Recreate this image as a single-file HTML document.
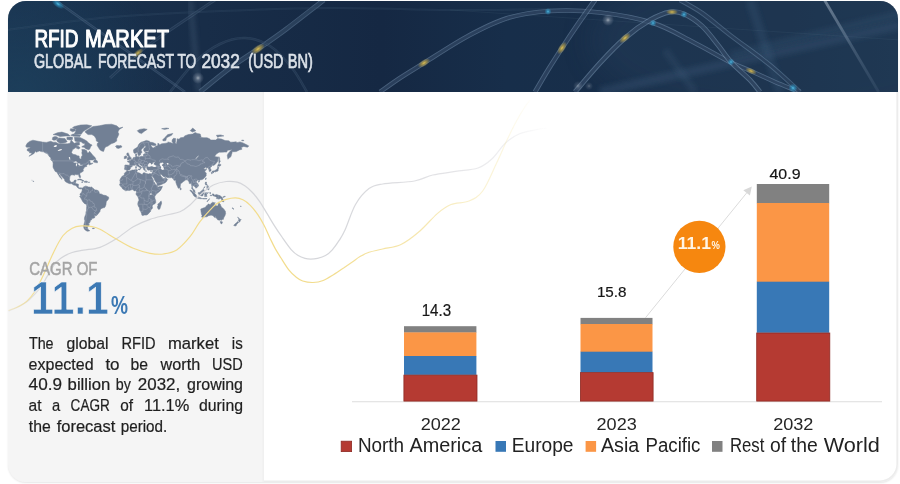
<!DOCTYPE html>
<html lang="en">
<head>
<meta charset="utf-8">
<title>RFID Market - Global Forecast to 2032 (USD BN)</title>
<style>
html,body{margin:0;padding:0;background:#ffffff;}
body{width:900px;height:484px;overflow:hidden;position:relative;font-family:"Liberation Sans",sans-serif;}
.card{position:absolute;left:8px;top:1px;width:890px;height:481px;border-radius:18px;overflow:hidden;background:#ffffff;box-shadow:0 0 0 1.6px #ececec inset,0 1px 2px rgba(0,0,0,.10);}
.banner{position:absolute;left:0;top:0;width:890px;height:91px;background:linear-gradient(90deg,#1a3350 0%,#182d48 22%,#152843 42%,#172e4a 56%,#1a2f49 85%,#1c344e 100%);}
.side{position:absolute;left:0;top:91px;width:256px;height:390px;background:#f5f5f5;box-shadow:-1.5px 0 0 0 #f0f0f0 inset;}
svg{position:absolute;left:0;top:0;will-change:transform;}
svg text{font-family:"Liberation Sans",sans-serif;}
</style>
</head>
<body>
<div class="card"><div class="banner"></div><div class="side"></div></div>
<svg width="900" height="484" viewBox="0 0 900 484">
<defs>
<clipPath id="cardclip"><rect x="8" y="1" width="890" height="481" rx="18" ry="18"/></clipPath>
<clipPath id="bannerclip"><path d="M26 1H880A18 18 0 0 1 898 19V92H8V19A18 18 0 0 1 26 1Z"/></clipPath>
<filter id="blur4" x="-20%" y="-20%" width="140%" height="140%"><feGaussianBlur stdDeviation="4"/></filter>
<filter id="blur8" x="-30%" y="-30%" width="160%" height="160%"><feGaussianBlur stdDeviation="14"/></filter>
<filter id="blur2" x="-20%" y="-20%" width="140%" height="140%"><feGaussianBlur stdDeviation="2.5"/></filter>
<radialGradient id="g_y"><stop offset="0" stop-color="#f2d25a" stop-opacity=".95"/><stop offset=".4" stop-color="#e0bb40" stop-opacity=".6"/><stop offset="1" stop-color="#e8c24a" stop-opacity="0"/></radialGradient>
<radialGradient id="g_c"><stop offset="0" stop-color="#5fd0f5" stop-opacity=".95"/><stop offset=".4" stop-color="#2fa8dc" stop-opacity=".6"/><stop offset="1" stop-color="#2fb4e8" stop-opacity="0"/></radialGradient>
<radialGradient id="g_w"><stop offset="0" stop-color="#ffffff" stop-opacity=".8"/><stop offset=".4" stop-color="#c8d0dc" stop-opacity=".4"/><stop offset="1" stop-color="#c8d0dc" stop-opacity="0"/></radialGradient>
<radialGradient id="bglow" gradientUnits="userSpaceOnUse" cx="20" cy="95" r="150"><stop offset="0" stop-color="#1d3f5b" stop-opacity=".95"/><stop offset="1" stop-color="#1d3f5b" stop-opacity="0"/></radialGradient>
<linearGradient id="streak" gradientUnits="userSpaceOnUse" x1="0" y1="0" x2="0" y2="92"><stop offset="0" stop-color="#a9b8c8" stop-opacity=".55"/><stop offset=".5" stop-color="#8fa3b8" stop-opacity=".30"/><stop offset="1" stop-color="#7f97b0" stop-opacity=".12"/></linearGradient>
<linearGradient id="fadeY" gradientUnits="userSpaceOnUse" x1="8" y1="0" x2="535" y2="0"><stop offset="0" stop-color="#f2dc8c" stop-opacity=".35"/><stop offset=".06" stop-color="#f2dc8c" stop-opacity="1"/><stop offset=".6" stop-color="#f2dc8c" stop-opacity="1"/><stop offset=".8" stop-color="#f3df94" stop-opacity=".7"/><stop offset=".93" stop-color="#f4e39c" stop-opacity=".35"/><stop offset="1" stop-color="#f4e39c" stop-opacity="0"/></linearGradient>
<linearGradient id="fadeG" gradientUnits="userSpaceOnUse" x1="8" y1="0" x2="550" y2="0"><stop offset="0" stop-color="#d4d5d9" stop-opacity=".3"/><stop offset=".08" stop-color="#d4d5d9" stop-opacity="1"/><stop offset=".6" stop-color="#d6d7db" stop-opacity="1"/><stop offset=".8" stop-color="#d9d9dd" stop-opacity=".75"/><stop offset=".93" stop-color="#dcdce0" stop-opacity=".4"/><stop offset="1" stop-color="#dcdce0" stop-opacity="0"/></linearGradient>
</defs>
<g clip-path="url(#bannerclip)">
<rect x="8" y="1" width="890" height="91" fill="url(#bglow)"/>
<ellipse cx="790" cy="40" rx="200" ry="80" fill="#27415d" opacity=".38" filter="url(#blur8)"/>
<path d="M600 92 L900 25" stroke="#3d5c7b" stroke-width="9" stroke-opacity=".34" filter="url(#blur2)"/>
<path d="M750 0 L780 92" stroke="#3d5c7b" stroke-width="9" stroke-opacity=".30" filter="url(#blur2)"/>
<path d="M730 55 L900 14" stroke="#3d5c7b" stroke-width="7" stroke-opacity=".26" filter="url(#blur2)"/>
<path d="M665 50 L695 92" stroke="#3d5c7b" stroke-width="7" stroke-opacity=".24" filter="url(#blur2)"/>
<path d="M190 0 L199 92" stroke="#7387a0" stroke-width="5" stroke-opacity=".22" filter="url(#blur2)"/>
<path d="M55.0 0.0C62.5 5.3 84.2 20.8 100.0 32.0C115.8 43.2 135.8 57.0 150.0 67.0C164.2 77.0 179.2 87.8 185.0 92.0" fill="none" stroke="#7f9bb8" stroke-width="2.6" stroke-opacity="0.26"/><path d="M55.0 0.0C62.5 5.3 84.2 20.8 100.0 32.0C115.8 43.2 135.8 57.0 150.0 67.0C164.2 77.0 179.2 87.8 185.0 92.0" fill="none" stroke="#182c47" stroke-width="0.8" stroke-opacity="0.50"/>
<path d="M110.0 78.0C114.7 73.8 129.7 59.8 138.0 53.0C146.3 46.2 149.7 44.2 160.0 37.0C170.3 29.8 190.8 16.2 200.0 10.0C209.2 3.8 212.5 1.7 215.0 0.0" fill="none" stroke="#7f9bb8" stroke-width="3.0" stroke-opacity="0.22"/><path d="M110.0 78.0C114.7 73.8 129.7 59.8 138.0 53.0C146.3 46.2 149.7 44.2 160.0 37.0C170.3 29.8 190.8 16.2 200.0 10.0C209.2 3.8 212.5 1.7 215.0 0.0" fill="none" stroke="#182c47" stroke-width="1.2" stroke-opacity="0.50"/>
<path d="M200.0 92.0C205.0 88.0 220.3 75.2 230.0 68.0C239.7 60.8 248.8 55.3 258.0 49.0C267.2 42.7 274.7 37.7 285.0 30.0C295.3 22.3 313.5 8.0 320.0 3.0C326.5 -2.0 323.3 0.5 324.0 0.0" fill="none" stroke="#7f9bb8" stroke-width="5.0" stroke-opacity="0.41"/><path d="M200.0 92.0C205.0 88.0 220.3 75.2 230.0 68.0C239.7 60.8 248.8 55.3 258.0 49.0C267.2 42.7 274.7 37.7 285.0 30.0C295.3 22.3 313.5 8.0 320.0 3.0C326.5 -2.0 323.3 0.5 324.0 0.0" fill="none" stroke="#182c47" stroke-width="3.2" stroke-opacity="0.55"/>
<path d="M170.0 92.0C174.2 87.0 186.7 70.0 195.0 62.0C203.3 54.0 211.7 48.0 220.0 44.0C228.3 40.0 236.7 37.7 245.0 38.0C253.3 38.3 262.2 41.0 270.0 46.0C277.8 51.0 285.8 60.3 292.0 68.0C298.2 75.7 304.5 88.0 307.0 92.0" fill="none" stroke="#7f9bb8" stroke-width="2.6" stroke-opacity="0.18"/><path d="M170.0 92.0C174.2 87.0 186.7 70.0 195.0 62.0C203.3 54.0 211.7 48.0 220.0 44.0C228.3 40.0 236.7 37.7 245.0 38.0C253.3 38.3 262.2 41.0 270.0 46.0C277.8 51.0 285.8 60.3 292.0 68.0C298.2 75.7 304.5 88.0 307.0 92.0" fill="none" stroke="#182c47" stroke-width="0.8" stroke-opacity="0.50"/>
<path d="M380.0 92.0C383.3 89.7 392.7 82.8 400.0 78.0C407.3 73.2 412.9 69.9 424.0 63.0C435.1 56.1 452.9 44.2 466.7 36.7C480.5 29.3 492.8 22.6 506.7 18.3C520.6 14.0 534.5 12.0 550.0 11.0C565.5 10.0 582.8 10.5 600.0 12.5C617.2 14.5 637.5 18.1 653.0 23.0C668.5 27.9 680.2 35.5 693.0 42.0C705.8 48.5 720.3 57.2 730.0 62.0C739.7 66.8 743.5 67.7 751.0 71.0C758.5 74.3 767.7 78.8 775.0 82.0C782.3 85.2 790.8 88.3 795.0 90.0C799.2 91.7 799.2 91.7 800.0 92.0" fill="none" stroke="#7f9bb8" stroke-width="4.6" stroke-opacity="0.48"/><path d="M380.0 92.0C383.3 89.7 392.7 82.8 400.0 78.0C407.3 73.2 412.9 69.9 424.0 63.0C435.1 56.1 452.9 44.2 466.7 36.7C480.5 29.3 492.8 22.6 506.7 18.3C520.6 14.0 534.5 12.0 550.0 11.0C565.5 10.0 582.8 10.5 600.0 12.5C617.2 14.5 637.5 18.1 653.0 23.0C668.5 27.9 680.2 35.5 693.0 42.0C705.8 48.5 720.3 57.2 730.0 62.0C739.7 66.8 743.5 67.7 751.0 71.0C758.5 74.3 767.7 78.8 775.0 82.0C782.3 85.2 790.8 88.3 795.0 90.0C799.2 91.7 799.2 91.7 800.0 92.0" fill="none" stroke="#182c47" stroke-width="2.8" stroke-opacity="0.60"/>
<path d="M535.0 92.0C537.2 88.3 543.5 77.3 548.0 70.0C552.5 62.7 557.0 55.7 562.0 48.0C567.0 40.3 572.5 32.0 578.0 24.0C583.5 16.0 592.2 4.0 595.0 0.0" fill="none" stroke="#7f9bb8" stroke-width="5.0" stroke-opacity="0.48"/><path d="M535.0 92.0C537.2 88.3 543.5 77.3 548.0 70.0C552.5 62.7 557.0 55.7 562.0 48.0C567.0 40.3 572.5 32.0 578.0 24.0C583.5 16.0 592.2 4.0 595.0 0.0" fill="none" stroke="#182c47" stroke-width="3.2" stroke-opacity="0.60"/>
<path d="M575.0 92.0C579.2 87.2 591.7 72.0 600.0 63.0C608.3 54.0 616.7 45.2 625.0 38.0C633.3 30.8 642.5 24.3 650.0 20.0C657.5 15.7 664.3 13.0 670.0 12.0C675.7 11.0 678.7 11.7 684.0 14.0C689.3 16.3 696.3 20.8 702.0 26.0C707.7 31.2 713.2 39.0 718.0 45.0C722.8 51.0 725.7 56.2 731.0 62.0C736.3 67.8 745.2 75.0 750.0 80.0C754.8 85.0 758.3 90.0 760.0 92.0" fill="none" stroke="#7f9bb8" stroke-width="5.0" stroke-opacity="0.53"/><path d="M575.0 92.0C579.2 87.2 591.7 72.0 600.0 63.0C608.3 54.0 616.7 45.2 625.0 38.0C633.3 30.8 642.5 24.3 650.0 20.0C657.5 15.7 664.3 13.0 670.0 12.0C675.7 11.0 678.7 11.7 684.0 14.0C689.3 16.3 696.3 20.8 702.0 26.0C707.7 31.2 713.2 39.0 718.0 45.0C722.8 51.0 725.7 56.2 731.0 62.0C736.3 67.8 745.2 75.0 750.0 80.0C754.8 85.0 758.3 90.0 760.0 92.0" fill="none" stroke="#182c47" stroke-width="3.2" stroke-opacity="0.60"/>
<path d="M680.0 0.0C683.7 2.2 693.7 7.2 702.0 13.0C710.3 18.8 718.7 26.3 730.0 35.0C741.3 43.7 758.3 55.5 770.0 65.0C781.7 74.5 795.0 87.5 800.0 92.0" fill="none" stroke="#7f9bb8" stroke-width="4.6" stroke-opacity="0.41"/><path d="M680.0 0.0C683.7 2.2 693.7 7.2 702.0 13.0C710.3 18.8 718.7 26.3 730.0 35.0C741.3 43.7 758.3 55.5 770.0 65.0C781.7 74.5 795.0 87.5 800.0 92.0" fill="none" stroke="#182c47" stroke-width="2.8" stroke-opacity="0.60"/>
<path d="M8.0 30.0C23.3 28.0 68.0 21.0 100.0 18.0C132.0 15.0 161.7 13.7 200.0 12.0C238.3 10.3 288.3 8.3 330.0 8.0C371.7 7.7 411.7 9.8 450.0 10.0C488.3 10.2 541.7 9.2 560.0 9.0" fill="none" stroke="#7f9bb8" stroke-width="2.0" stroke-opacity="0.12"/><path d="M8.0 30.0C23.3 28.0 68.0 21.0 100.0 18.0C132.0 15.0 161.7 13.7 200.0 12.0C238.3 10.3 288.3 8.3 330.0 8.0C371.7 7.7 411.7 9.8 450.0 10.0C488.3 10.2 541.7 9.2 560.0 9.0" fill="none" stroke="#182c47" stroke-width="0.6" stroke-opacity="0.50"/>
<path d="M824.5 0 L878.6 92" stroke="url(#streak)" stroke-width="2.8"/>
<path d="M450 10 L900 40" stroke="#6f87a0" stroke-width="1" stroke-opacity=".10"/>
<ellipse cx="58.0" cy="4.0" rx="7.2" ry="3.5" fill="url(#g_c)" opacity="0.90" transform="rotate(35 58.0 4.0)"/>
<ellipse cx="138.0" cy="53.0" rx="6.5" ry="3.1" fill="url(#g_y)" opacity="0.85" transform="rotate(-39 138.0 53.0)"/>
<ellipse cx="258.0" cy="49.0" rx="8.0" ry="3.8" fill="url(#g_y)" opacity="0.95" transform="rotate(-35 258.0 49.0)"/>
<circle cx="198.0" cy="78.0" r="6.0" fill="url(#g_w)" opacity="0.70"/>
<ellipse cx="424.0" cy="63.0" rx="7.0" ry="3.4" fill="url(#g_y)" opacity="0.95" transform="rotate(-32 424.0 63.0)"/>
<circle cx="548.0" cy="11.5" r="3.5" fill="url(#g_c)" opacity="0.90"/>
<ellipse cx="562.0" cy="48.0" rx="7.2" ry="3.5" fill="url(#g_y)" opacity="0.95" transform="rotate(-57 562.0 48.0)"/>
<ellipse cx="625.0" cy="38.0" rx="7.0" ry="3.4" fill="url(#g_y)" opacity="0.95" transform="rotate(-41 625.0 38.0)"/>
<circle cx="653.0" cy="23.0" r="3.5" fill="url(#g_c)" opacity="0.90"/>
<ellipse cx="672.0" cy="12.0" rx="6.1" ry="2.9" fill="url(#g_y)" opacity="0.90" transform="rotate(0 672.0 12.0)"/>
<circle cx="684.0" cy="14.5" r="3.5" fill="url(#g_c)" opacity="0.90"/>
<circle cx="731.0" cy="62.0" r="3.5" fill="url(#g_c)" opacity="0.90"/>
<ellipse cx="751.0" cy="71.0" rx="6.1" ry="2.9" fill="url(#g_y)" opacity="0.90" transform="rotate(24 751.0 71.0)"/>
<circle cx="793.0" cy="88.0" r="4.5" fill="url(#g_c)" opacity="0.90"/>
<circle cx="608.0" cy="20.0" r="6.0" fill="url(#g_w)" opacity="0.70"/>
<circle cx="578.0" cy="86.0" r="5.0" fill="url(#g_w)" opacity="0.40"/>
<circle cx="589.0" cy="86.0" r="4.0" fill="url(#g_w)" opacity="0.35"/>
</g>
<g clip-path="url(#cardclip)">
<!-- world map -->
<g>
<path d="M25.7 146.3L27.0 143.5L29.5 141.4L32.9 140.2L38.2 141.3L42.6 142.1L46.3 142.4L50.7 141.3L53.1 142.2L55.6 142.2L58.8 143.8L63.1 143.8L67.5 143.8L70.0 143.3L71.2 140.0L73.1 142.2L74.3 143.3L77.4 142.2L79.3 142.2L79.6 144.8L76.8 145.6L76.2 147.3L72.5 149.8L71.5 152.5L72.8 154.3L75.6 154.7L77.4 155.8L79.1 156.0L79.3 157.7L80.2 159.1L81.2 158.9L81.2 156.9L82.4 155.2L81.8 153.0L82.1 151.2L81.8 149.4L84.6 149.5L86.8 150.7L87.1 152.5L88.3 153.1L89.6 151.3L91.8 153.9L93.0 155.6L94.9 157.3L95.7 158.5L94.9 159.0L93.0 160.0L90.2 160.0L88.7 160.7L86.8 162.2L88.3 161.2L90.2 160.9L89.9 161.9L90.2 163.0L92.1 163.4L93.0 162.9L92.4 163.8L90.5 164.5L89.3 165.1L89.3 164.2L88.7 164.0L87.7 164.5L86.5 165.3L86.8 166.4L85.5 166.8L84.3 167.3L84.0 168.2L83.4 169.1L83.1 169.8L83.4 171.1L82.1 171.9L80.9 172.6L79.9 173.6L79.8 174.6L80.6 176.6L80.4 177.7L79.8 177.8L78.9 176.3L78.8 175.1L78.1 174.6L77.1 174.8L75.6 174.4L74.6 174.6L74.8 175.3L73.7 175.1L72.1 174.8L71.2 175.1L70.0 176.1L69.8 177.3L69.5 179.5L70.0 181.1L70.6 181.8L71.5 182.3L73.1 182.0L73.9 181.4L74.1 180.5L75.6 180.1L76.2 180.2L75.9 181.4L75.6 182.4L75.3 183.6L76.8 183.7L78.5 184.3L78.4 185.8L78.3 186.8L79.0 187.7L79.9 188.1L80.9 187.7L82.1 188.2L81.9 189.1L81.5 188.3L80.6 189.0L79.6 188.7L78.7 188.4L77.4 187.4L76.8 186.4L75.9 185.5L74.6 185.2L73.4 184.9L72.1 184.0L71.2 183.6L70.0 183.8L68.4 183.2L66.9 182.5L65.6 181.8L64.7 180.8L64.7 179.8L63.7 178.6L62.5 177.3L61.6 176.3L60.6 175.3L60.0 173.9L58.9 173.5L59.1 174.6L60.0 175.6L60.9 176.9L61.6 178.2L62.2 179.1L61.9 179.3L60.6 178.1L59.4 176.6L58.8 175.3L57.8 173.9L57.4 172.9L56.6 171.9L55.3 171.5L54.5 170.2L54.1 169.3L53.3 168.0L53.0 167.0L53.0 165.5L53.1 163.2L52.7 161.5L54.1 161.3L53.8 160.8L52.5 159.9L51.0 158.9L50.3 157.3L49.2 156.4L48.5 155.2L47.2 153.4L45.4 153.0L43.5 151.8L41.3 151.6L39.4 150.9L37.9 151.6L36.0 152.2L36.0 150.7L34.8 152.2L34.1 153.4L32.3 154.5L30.7 155.4L28.9 156.2L30.4 155.2L32.3 152.8L31.3 152.9L29.5 152.8L29.5 151.6L27.6 151.0L27.0 150.0L27.6 148.8L30.1 148.1L30.1 147.3L28.9 147.3L26.7 147.2ZM92.1 145.1L90.5 146.9L89.9 148.8L89.0 149.8L88.0 149.5L86.2 149.0L84.0 147.3L81.8 147.1L82.1 146.4L84.6 145.3L84.9 143.6L82.7 143.3L81.2 141.7L77.4 141.7L75.0 141.1L74.6 138.8L74.3 137.3L77.4 137.3L79.9 137.4L82.1 138.5L84.3 139.6L86.8 141.0L88.3 142.7L90.5 144.3ZM65.0 142.7L67.2 141.7L65.0 138.5L61.9 138.3L58.8 137.9L56.6 140.0L57.5 141.7L60.0 143.3L63.1 143.1ZM52.2 139.4L53.8 140.3L55.6 140.0L58.1 138.3L57.2 136.9L55.0 136.5L52.8 137.3ZM74.3 134.0L77.4 134.3L81.2 134.3L83.1 131.4L85.5 130.1L89.9 127.2L91.8 125.8L86.8 124.8L80.6 125.0L74.3 126.5L72.5 127.7L76.2 129.4L75.6 131.4ZM73.1 134.0L80.6 135.3L79.9 136.4L73.7 136.2L70.6 135.3ZM53.1 134.6L57.5 132.7L61.9 132.1L68.1 134.0L70.0 135.9L65.0 136.1L60.0 136.5L56.9 135.3ZM70.6 128.7L75.0 128.9L75.6 130.7L72.5 131.8L70.0 130.3ZM66.9 137.3L70.6 137.1L72.5 137.3L72.5 139.4L70.0 140.0L66.9 139.4ZM76.2 146.4L78.1 145.9L80.2 147.8L78.7 149.0L76.5 148.3ZM93.5 162.0L95.5 162.6L97.4 162.8L97.6 162.0L97.1 160.7L95.5 160.1L95.8 158.9L94.7 159.6L93.6 161.3ZM50.5 159.5L52.2 159.9L53.5 161.3L52.5 161.2ZM77.4 179.8L79.0 179.1L80.6 179.1L82.4 180.0L84.2 181.0L82.0 181.2L82.4 180.8L81.5 180.2L79.3 179.7L78.1 180.0ZM84.0 182.1L85.0 181.2L86.8 181.2L87.8 182.0L86.2 182.5L85.5 182.3ZM81.6 182.1L82.9 182.3L82.7 182.5L81.7 182.4ZM88.5 182.1L89.5 182.1L89.4 182.4L88.5 182.4ZM33.2 181.0L33.8 181.2L33.5 181.8L33.1 181.4ZM31.8 180.1L32.2 180.3L32.0 180.4ZM84.9 131.8L88.0 129.4L93.0 126.5L99.2 125.8L105.5 124.5L111.7 124.2L116.7 125.8L119.2 128.0L122.9 127.2L119.2 129.4L117.9 132.1L118.9 134.0L117.9 136.5L116.7 138.8L116.7 141.1L114.2 142.7L111.1 143.8L108.0 146.1L105.5 146.9L104.5 148.8L103.6 151.4L101.7 150.9L99.9 149.8L98.6 147.8L97.1 145.3L97.4 143.3L98.6 142.2L96.4 141.1L96.1 138.8L94.3 135.9L91.8 134.6L88.0 134.6L86.2 133.1ZM115.4 146.4L116.7 145.4L119.2 145.7L121.1 145.6L122.0 146.9L120.7 147.6L118.6 148.4L116.4 147.9L116.7 147.1ZM82.1 188.2L83.1 187.7L83.5 186.9L84.0 186.7L85.9 185.9L85.7 186.8L85.9 186.9L86.8 186.1L88.0 186.9L89.3 187.0L90.5 187.2L91.8 186.9L92.4 187.7L93.0 188.3L94.3 189.3L94.9 189.9L96.1 189.9L98.0 190.6L98.6 191.1L99.2 192.4L99.2 193.5L100.3 193.9L101.1 193.9L102.7 194.7L103.0 195.1L104.5 195.3L106.1 195.6L106.4 195.8L107.3 196.4L108.5 196.9L108.7 198.1L108.7 198.4L108.0 199.8L106.4 201.5L106.1 203.0L106.0 204.5L105.5 205.9L104.9 207.2L104.2 207.8L103.3 207.8L101.6 208.4L100.5 209.4L100.1 210.4L100.0 211.5L99.2 212.4L98.0 213.9L97.1 215.1L96.1 215.7L95.3 215.7L94.1 215.1L94.9 216.7L94.5 217.9L91.8 218.6L91.6 219.9L89.9 220.0L90.7 221.1L89.9 221.5L89.6 223.0L88.3 223.8L89.4 224.7L88.2 226.5L87.4 227.7L87.8 228.7L87.8 229.3L89.8 230.7L89.0 231.1L87.4 231.2L86.2 230.7L85.2 230.0L84.3 228.9L83.7 227.3L83.4 225.3L84.0 224.4L84.6 222.2L84.9 220.8L84.4 219.3L84.6 217.3L85.2 215.8L85.9 214.1L85.9 212.4L86.5 210.4L86.5 208.4L86.7 206.5L86.6 204.8L85.9 204.2L84.3 203.4L83.1 202.1L82.3 200.9L81.5 199.3L80.7 197.8L79.8 197.0L79.8 196.2L80.6 195.5L80.4 195.0L79.9 194.8L80.1 194.1L80.6 193.2L81.2 192.8L81.5 192.0L82.1 191.1L82.1 189.8L81.9 189.1ZM92.4 228.1L94.3 227.9L94.3 228.5L92.7 228.7ZM124.8 169.8L124.5 168.6L124.9 167.0L124.7 165.5L125.4 165.0L127.0 165.1L128.2 165.2L129.3 165.2L129.7 164.4L129.7 163.2L129.0 162.3L127.6 161.9L127.5 161.4L128.5 161.1L129.4 161.2L129.3 160.4L130.4 160.6L131.3 160.0L131.5 159.4L132.6 159.0L133.2 158.3L133.5 157.5L134.8 157.3L135.7 157.0L135.8 156.1L135.4 155.2L135.5 154.3L136.9 153.7L136.8 154.7L136.6 156.0L137.3 156.7L138.2 156.5L139.2 156.9L140.7 156.4L141.9 156.3L142.7 156.5L143.5 155.6L143.5 154.3L144.4 153.7L145.4 154.2L145.5 153.1L145.0 152.3L146.0 152.1L147.8 152.0L149.1 151.7L148.2 151.1L146.6 151.2L144.7 151.7L143.8 151.1L143.7 149.8L143.8 148.6L145.7 147.1L146.2 146.5L144.4 146.1L143.8 147.3L142.2 148.6L141.3 149.8L141.1 151.0L142.1 151.8L141.6 152.7L140.8 153.6L140.4 155.0L139.3 155.6L138.5 155.7L138.2 155.0L137.8 153.6L137.3 152.5L136.9 152.2L135.7 153.2L134.8 153.4L133.8 152.7L133.5 151.2L133.5 149.8L134.8 148.8L136.6 147.8L137.9 146.4L138.5 144.8L139.7 143.3L141.3 142.2L142.9 141.7L144.7 141.1L146.4 140.4L147.8 140.8L149.7 141.3L149.1 142.0L151.0 142.3L152.8 142.5L155.9 144.0L155.9 145.3L154.1 145.8L151.6 145.1L151.0 145.6L152.2 147.4L153.5 147.9L154.1 147.3L155.6 147.3L155.3 146.2L157.5 145.7L157.8 144.5L157.8 143.3L159.1 143.8L159.4 145.0L161.6 143.8L164.0 143.5L165.9 143.2L168.1 142.7L167.8 141.9L170.9 142.7L172.1 143.3L173.4 143.3L172.1 141.7L172.1 140.0L173.4 138.3L175.6 138.5L175.6 140.6L175.3 142.7L176.2 144.3L175.9 145.3L176.5 143.3L177.1 140.6L177.1 138.8L179.0 139.2L180.6 137.7L184.0 137.3L184.6 135.9L188.3 134.6L192.7 134.0L195.2 132.5L197.1 133.4L200.2 134.0L201.1 137.1L198.9 137.3L203.9 137.7L207.0 137.7L209.5 138.8L210.8 140.0L213.3 140.0L215.8 140.0L217.6 138.6L221.4 139.0L225.1 140.6L228.8 140.8L230.7 142.2L233.8 142.1L236.3 141.8L236.9 142.7L240.0 141.9L242.5 142.7L245.7 144.3L248.8 145.9L247.5 147.3L243.8 146.4L242.5 147.1L241.3 147.3L241.9 149.3L239.4 149.9L236.3 151.6L233.8 151.7L232.1 151.8L231.9 153.4L231.3 154.9L231.2 156.0L230.1 157.5L229.1 157.8L228.0 159.3L227.6 157.7L227.3 155.2L228.2 153.4L230.1 151.2L232.3 149.3L230.1 149.9L227.6 150.2L226.7 152.1L224.5 152.1L221.4 152.2L219.2 152.2L216.4 153.9L214.7 156.2L216.1 156.9L217.0 156.7L218.4 157.5L217.9 159.3L217.8 161.3L216.4 163.0L214.8 164.8L213.3 165.6L212.6 165.3L211.8 166.0L211.2 167.0L209.9 167.8L211.0 169.5L211.0 170.9L210.8 171.1L209.5 171.6L209.1 171.2L209.2 169.8L208.3 169.1L208.5 168.0L207.8 167.7L206.4 168.3L206.0 168.5L206.4 167.3L205.8 167.0L204.5 168.3L203.7 168.6L204.2 169.3L205.6 169.3L206.7 169.6L205.5 170.5L204.7 171.2L205.5 172.2L206.3 173.4L206.3 174.0L205.8 174.4L206.4 174.7L206.1 175.7L205.2 176.9L204.5 177.8L203.6 178.7L202.7 179.3L201.6 179.7L200.8 179.8L199.6 180.2L199.1 180.9L198.7 180.2L197.8 180.1L196.9 180.7L196.3 181.6L196.7 182.5L197.7 183.5L198.4 184.9L198.5 186.1L197.4 187.1L196.9 187.6L195.8 188.2L195.7 187.4L194.9 187.0L194.3 186.1L193.3 185.7L193.0 185.2L192.7 186.1L192.3 187.1L192.8 188.3L193.3 189.3L194.3 189.8L194.8 190.7L194.9 192.0L195.3 192.6L194.8 192.6L193.5 191.7L193.0 190.7L192.9 189.7L191.6 188.5L191.8 187.4L191.9 186.1L191.3 184.6L191.2 183.3L190.2 183.5L189.3 183.6L189.1 182.1L188.7 181.2L187.8 180.5L187.4 179.5L186.7 179.8L185.8 180.0L184.6 180.3L184.5 180.9L183.4 181.4L181.7 183.1L180.4 184.0L180.4 185.5L180.1 187.2L179.6 187.9L179.0 188.2L178.7 188.5L177.9 187.5L177.4 186.3L177.0 185.5L176.4 184.0L175.9 182.4L175.8 181.6L175.7 180.5L175.4 180.0L174.6 180.6L173.4 179.7L174.2 179.2L173.1 178.8L172.3 178.2L171.8 177.6L170.3 177.7L168.7 177.8L166.8 177.6L165.9 176.7L165.5 176.5L164.4 176.9L163.1 176.3L162.2 175.4L161.6 174.5L160.8 174.4L160.3 174.7L160.3 175.1L160.8 176.1L161.6 176.8L161.7 177.6L162.2 177.3L162.5 178.2L163.4 178.5L164.4 178.4L165.3 177.4L165.5 177.1L165.6 178.2L167.0 178.8L167.7 179.5L166.8 180.8L166.3 181.8L165.5 182.4L164.7 183.0L162.9 183.8L160.9 184.8L158.4 185.6L157.5 185.7L157.1 184.4L156.9 183.3L155.9 181.9L154.8 180.2L154.1 178.6L153.1 177.3L152.2 175.9L152.1 174.9L151.8 176.1L151.0 175.4L150.6 174.6L150.5 173.8L151.7 173.7L152.2 172.7L152.7 171.6L152.8 170.5L153.0 170.0L151.9 170.0L150.6 170.4L149.5 170.0L148.5 170.2L147.5 169.8L146.9 168.8L146.8 168.0L146.9 167.5L146.7 167.5L146.6 167.0L145.4 167.1L145.4 167.7L144.6 167.3L144.6 168.2L145.4 169.0L145.4 169.3L144.7 169.2L144.9 170.2L144.4 170.2L143.9 170.0L143.7 169.3L143.5 168.8L143.0 168.0L142.5 167.3L142.5 166.4L141.9 165.9L140.4 165.1L139.7 164.4L139.3 163.8L138.9 164.0L138.9 163.5L138.1 163.8L138.1 164.5L138.9 165.1L139.2 165.9L140.4 166.3L141.9 167.6L141.0 167.3L140.7 167.9L141.1 168.4L140.7 168.9L140.2 169.1L140.4 168.4L140.1 167.7L139.3 167.1L138.1 166.5L136.9 165.6L136.6 164.8L135.9 164.5L135.1 164.9L134.1 165.4L133.2 165.2L132.4 165.3L132.3 165.9L132.4 166.3L131.8 166.7L130.9 167.2L130.2 168.0L130.5 168.5L130.0 169.4L129.2 170.0L127.7 170.0L126.9 170.5L126.5 170.1L125.8 169.7ZM150.6 174.6L150.5 173.8L149.7 173.6L148.8 174.0L147.2 173.7L146.0 173.5L144.7 172.8L143.8 172.7L142.9 173.3L142.9 174.3L141.6 174.3L140.1 173.6L139.7 173.0L138.5 172.7L137.3 172.2L136.6 171.8L137.3 170.9L137.3 169.8L136.5 169.6L134.8 169.8L133.5 170.0L132.3 170.0L130.4 170.7L129.2 171.1L128.5 171.0L127.1 170.6L126.7 170.7L126.2 171.9L125.1 172.4L124.3 173.6L124.4 174.6L123.2 175.7L122.3 176.1L121.4 177.3L120.4 178.8L119.8 180.5L120.2 181.8L120.1 183.6L119.5 184.5L120.0 185.8L121.1 186.8L122.1 187.7L122.6 188.9L123.7 189.6L125.7 190.8L127.9 190.3L129.2 190.6L131.0 189.9L132.5 189.6L133.5 190.1L134.1 190.9L135.7 190.7L136.3 191.2L136.5 192.2L136.2 193.2L135.9 193.9L136.6 195.3L137.8 196.4L138.1 197.2L138.7 198.9L139.0 200.2L138.2 201.8L137.8 203.4L137.8 204.6L138.5 206.5L139.4 207.8L139.7 210.1L140.7 211.5L141.6 213.7L141.9 215.2L142.9 215.6L144.4 215.1L146.4 215.1L147.8 214.4L149.6 212.4L150.6 211.4L150.9 209.7L152.4 208.4L152.5 207.2L152.1 205.9L153.3 204.5L155.0 203.7L155.8 202.4L155.6 200.2L155.0 198.7L154.9 197.7L154.6 196.9L155.1 195.9L155.9 194.7L157.2 193.2L158.7 192.2L160.3 190.7L161.2 189.2L162.0 187.7L162.4 186.3L160.9 186.6L159.7 186.6L158.1 187.1L157.4 186.4L157.3 185.8L155.9 184.6L155.1 184.1L154.5 182.4L153.6 181.4L153.6 180.5L152.6 178.6L151.9 177.3L151.3 175.9ZM161.1 200.9L161.7 203.0L161.4 204.0L160.6 206.5L159.8 209.0L158.6 209.4L157.6 208.1L157.4 206.8L158.0 205.6L157.8 204.0L159.2 203.2L160.3 201.8ZM127.0 160.1L128.2 159.9L129.5 159.6L131.2 159.2L130.9 158.8L131.5 157.9L130.5 157.5L130.3 156.9L129.5 156.0L129.2 155.2L128.5 155.1L129.2 153.9L127.9 153.7L128.5 152.9L127.3 152.9L126.7 153.9L127.0 155.2L127.4 155.8L128.3 156.1L128.5 156.9L128.4 157.4L127.6 157.5L127.7 158.3L127.2 158.7L128.2 158.9L128.5 159.2L127.6 159.3ZM124.2 158.7L126.5 158.3L126.7 157.3L126.8 156.3L125.9 155.8L125.2 156.3L124.2 156.7L124.3 157.4ZM138.2 169.1L140.1 169.0L139.8 170.0L138.2 169.4ZM135.6 167.0L136.4 167.0L136.4 168.3L135.7 168.4ZM135.8 165.8L136.3 165.5L136.3 166.6L135.8 166.5ZM145.1 170.8L146.7 171.0L146.7 171.2L145.1 171.1ZM150.5 171.2L151.9 170.8L151.5 171.4L150.6 171.5ZM162.5 140.0L164.7 137.7L167.8 134.6L172.8 133.4L171.5 135.3L166.5 137.7L165.9 140.6L163.4 140.9ZM137.3 130.7L139.7 129.4L144.1 128.7L147.2 129.4L144.1 131.4L141.6 133.6L139.1 132.7ZM161.6 128.7L166.5 128.0L169.0 128.5L164.7 129.4ZM190.2 130.7L192.7 128.0L195.8 130.7L192.7 132.1ZM216.4 135.3L220.7 134.9L223.9 135.9L219.5 136.5L217.6 137.3ZM241.6 140.2L243.5 140.1L243.8 140.7L241.9 140.8ZM218.9 156.6L219.7 158.5L219.6 160.5L220.4 160.9L219.5 162.5L219.8 163.2L218.9 163.2L218.9 161.7L218.7 159.7L218.7 158.1ZM217.6 166.6L217.8 165.3L218.7 163.7L219.5 164.5L220.9 164.6L220.7 165.5L219.7 166.2L218.2 165.9ZM218.4 166.7L218.9 168.0L218.2 169.1L218.2 170.5L217.6 171.2L216.7 171.4L215.8 171.5L215.1 172.2L214.5 171.5L213.3 171.7L212.0 171.9L212.0 171.6L212.9 170.9L214.8 170.8L215.8 169.8L216.8 169.5L217.6 168.0L217.6 167.2ZM211.4 172.2L212.4 172.2L212.3 173.6L211.6 173.8L211.3 172.7ZM212.9 171.9L214.2 171.8L214.0 172.2L213.3 172.7L212.8 172.4ZM206.1 177.8L206.3 178.2L205.7 179.8L205.3 179.2L205.8 177.9ZM198.1 181.6L199.2 181.1L199.6 181.4L198.6 182.3ZM205.5 182.1L206.5 182.1L206.4 183.6L207.3 185.0L207.7 185.8L206.4 185.0L205.5 184.8L205.2 183.6ZM206.4 189.2L207.3 188.3L208.6 187.6L209.2 188.9L208.6 190.0L207.7 189.2ZM207.0 186.4L208.3 186.6L208.6 185.8L207.7 187.4L207.0 187.7L206.4 187.1ZM203.5 188.3L204.8 186.6L205.0 186.9L203.8 188.4ZM180.2 187.5L181.4 188.9L180.9 189.8L180.2 189.8L180.1 188.6ZM189.8 190.1L191.1 190.3L192.9 192.0L194.9 193.5L196.4 195.3L196.3 197.0L195.5 197.0L193.9 195.9L192.9 194.1L191.8 192.4L190.8 191.4ZM195.9 197.7L196.7 197.2L198.0 197.5L199.2 197.5L200.6 197.8L201.7 198.3L201.7 198.8L199.6 198.6L197.7 198.3L196.7 198.0ZM198.3 192.6L199.6 192.4L200.8 191.5L202.0 190.4L203.3 189.2L204.5 190.3L203.9 190.9L203.8 192.3L204.5 192.9L203.6 193.8L203.0 195.0L202.7 195.9L201.7 195.9L200.8 195.5L199.9 195.5L198.9 194.4L198.3 193.5ZM205.0 193.0L205.8 192.7L207.3 192.9L208.4 192.5L208.0 193.3L205.8 193.2L205.3 194.0L206.1 194.1L207.2 194.0L206.3 194.7L206.7 195.6L207.0 196.6L206.4 196.4L205.8 195.3L205.5 195.9L205.3 196.9L204.8 196.9L204.8 195.6L204.4 195.1L205.0 193.6ZM212.0 194.0L213.9 194.0L214.5 195.5L216.1 194.5L218.2 195.1L220.4 195.8L221.4 196.9L222.5 197.3L222.0 197.8L222.9 199.0L223.9 201.8L221.9 201.4L221.4 198.7L220.1 198.3L219.5 199.1L218.2 199.1L217.0 198.4L216.4 198.6L216.7 197.5L216.4 196.9L214.5 196.2L213.3 195.9L212.6 195.2L213.6 194.9L212.6 194.7ZM206.9 201.6L209.5 198.6L209.5 198.9L207.3 201.7ZM202.4 198.5L204.5 198.5L207.0 198.5L207.0 198.9L204.5 199.0L202.4 198.9ZM209.8 192.3L210.5 192.6L210.5 193.8L209.8 193.5ZM210.1 195.3L211.9 195.3L211.7 195.7L210.1 195.6ZM222.9 196.9L225.1 196.1L225.3 196.6L223.2 197.4ZM200.8 209.0L201.0 211.5L201.6 214.5L202.1 215.5L201.6 217.1L203.5 217.6L204.8 216.8L206.9 216.8L208.5 215.7L210.4 215.3L211.9 215.2L213.5 216.0L214.4 217.4L215.0 216.9L215.8 215.9L215.7 217.2L215.4 217.7L216.3 217.4L216.1 218.1L217.0 218.6L217.5 219.7L219.4 220.3L220.3 219.8L221.1 220.5L222.2 219.6L223.5 219.3L223.6 218.1L224.3 216.8L225.0 215.5L225.4 214.2L225.7 213.2L225.4 212.2L225.3 210.9L224.4 210.1L223.9 209.3L223.0 208.3L222.4 207.7L221.3 207.0L221.0 206.1L220.6 205.2L220.5 204.4L219.6 204.1L219.3 203.0L218.8 201.9L218.3 203.0L218.2 204.5L217.7 206.1L216.9 206.1L215.7 205.2L214.5 204.5L214.6 203.6L215.4 202.8L214.1 202.7L212.7 202.2L211.6 202.9L211.0 203.6L210.7 204.5L209.7 204.5L209.1 203.9L208.2 204.1L207.3 205.3L206.2 205.9L206.0 206.7L204.8 207.6L203.2 208.1L202.0 208.6ZM220.1 221.6L222.2 221.7L222.4 222.6L221.9 223.7L221.0 223.7L220.5 222.7ZM237.6 217.2L238.6 217.8L239.3 218.6L239.6 219.4L241.2 219.5L240.3 220.6L240.1 221.3L239.2 222.3L238.9 222.1L239.1 221.1L238.3 220.6L238.8 219.7L238.7 218.6L237.8 217.6ZM237.6 221.5L238.6 222.2L237.8 223.3L236.7 224.3L236.3 225.5L235.3 226.0L234.4 225.7L233.7 225.4L234.7 224.3L235.9 223.3L236.8 222.4ZM232.2 207.8L234.0 209.1L233.7 209.2L232.0 208.1ZM240.5 206.0L241.3 206.2L241.1 206.5L240.5 206.4Z" fill="#728095" stroke="#728095" stroke-width=".5" stroke-linejoin="round"/>
<path d="M147.8 166.6L147.8 165.1L148.3 164.2L149.1 163.4L149.7 162.8L151.0 163.2L151.3 163.3L150.6 163.7L151.3 164.4L152.4 164.0L153.1 163.8L152.2 163.1L153.8 162.5L154.9 162.3L154.1 163.2L153.5 163.8L154.1 164.5L155.1 165.1L156.3 165.9L156.3 166.5L155.1 167.0L154.1 167.0L153.1 166.7L152.2 166.2L151.0 166.2L150.0 166.7L148.8 166.8ZM159.7 163.6L160.9 162.9L162.5 162.6L163.4 162.9L163.4 164.0L162.2 164.4L161.9 165.5L163.1 166.2L163.4 167.3L163.9 168.4L163.9 169.6L162.8 170.0L161.6 169.6L160.9 168.8L161.2 167.5L160.6 166.2L160.0 165.5L159.7 164.4ZM166.8 162.9L168.4 162.9L168.4 164.4L167.2 164.8ZM150.3 193.3L151.6 193.4L151.6 194.7L150.3 194.9ZM73.1 162.6L75.6 161.3L77.4 162.1L77.4 162.8L75.6 162.8ZM75.9 163.6L76.8 163.4L77.4 163.6L76.6 166.2L75.9 166.2ZM77.8 163.2L79.9 163.4L80.6 164.3L79.5 165.3L78.4 164.8ZM78.7 166.2L81.2 165.6L82.7 165.2L82.4 164.8L80.9 165.1L78.7 166.0ZM195.2 158.8L196.4 158.5L198.6 156.0L198.8 155.4L198.0 156.0L196.1 158.1ZM68.7 157.3L70.0 157.0L70.3 159.7L69.7 159.7ZM57.5 150.4L60.0 149.3L62.2 149.0L61.2 150.2L58.8 150.9ZM53.5 146.6L55.0 145.3L56.9 145.0L56.3 146.9L54.4 146.9Z" fill="#f5f5f5"/>
<path d="M53.8 160.9L71.2 160.9L75.3 161.7L77.8 162.9L79.0 163.8L79.0 165.9L81.2 165.3L82.7 164.8L83.7 164.0L85.9 164.0L87.2 162.2L88.2 162.5L88.7 164.0M42.6 142.1L42.6 151.3L44.7 152.5L46.3 152.1L49.4 155.3M57.4 172.9L58.9 172.9L61.2 173.7L63.0 173.7L64.1 173.4L65.3 174.9L66.2 175.3L67.2 174.7L68.4 176.3L69.8 177.3M73.0 184.6L73.7 183.6L73.7 182.5L74.8 182.5L75.3 182.1M84.9 186.4L85.2 188.0L85.5 189.2L86.8 189.2L88.3 189.7L88.7 192.3L86.9 192.9L86.8 196.1M93.0 188.3L92.4 189.8L93.0 190.4L90.5 191.1L90.8 192.3L89.1 192.9M94.9 189.9L94.3 191.1L94.9 192.3L96.4 192.1L98.0 192.0L98.3 190.9M86.8 196.1L84.9 197.5L84.4 199.3L86.5 199.3L86.5 200.2L87.4 200.2L89.7 199.6L89.9 200.9L92.7 201.9L93.0 203.5L94.1 203.5L94.6 204.6L94.3 205.9L94.3 207.2L95.6 207.3L96.4 208.4L96.4 209.5L96.9 210.4L95.5 211.4L94.5 212.5L97.1 214.9M80.4 195.6L81.2 196.6L81.8 195.6L83.5 193.8L83.4 193.5L82.4 193.3L81.2 192.8M83.5 193.8L84.9 194.9L86.8 196.1M87.4 200.2L87.1 202.7L87.4 204.3L86.6 204.8M87.4 204.3L87.9 205.6L88.7 207.8L87.7 209.1L87.1 211.1L86.5 213.4L86.8 215.1L86.2 217.2L85.9 220.0L85.5 223.0L85.2 226.1L85.5 228.5L87.7 228.7M88.7 207.8L90.2 207.2L91.5 207.3L94.3 205.9M91.5 207.3L94.0 210.5L95.5 210.6L96.4 209.5M94.5 212.5L94.1 214.4M125.0 176.1L125.0 176.4L122.3 176.1M125.0 176.4L127.4 177.9L131.1 180.5L132.4 181.2L133.0 181.6L133.1 183.6L132.6 184.0L131.0 184.3L130.5 184.3L129.2 184.8L127.9 185.3L127.0 187.1L125.4 187.2L125.1 188.8L125.7 190.8M125.0 176.4L129.7 173.3L129.2 171.1M122.9 178.9L122.3 180.3L119.8 180.5M127.4 177.9L126.4 177.9L127.0 184.0L123.2 184.0L122.8 184.4L121.4 183.3L120.1 183.6M122.8 184.4L123.3 185.9L121.9 185.8L120.0 185.9M123.3 185.9L125.4 187.2M131.1 180.5L135.7 172.6L135.1 171.8L135.7 169.9M135.7 172.6L136.3 174.5L136.6 176.9L136.3 177.1L137.9 178.9M137.6 172.5L136.6 173.6L136.3 174.5M133.0 181.6L134.1 181.4L137.9 178.9L139.7 179.2L145.4 181.4L145.4 181.1L146.0 181.1L146.0 173.5M146.0 179.8L153.4 179.8M139.7 179.2L140.4 180.8L140.1 183.1L138.8 184.6L139.2 185.5L139.7 185.6L139.7 187.4L139.0 187.4L140.1 188.9L139.4 189.8L139.6 190.7L140.5 192.2L138.7 192.2L137.4 192.2L137.4 192.9L136.5 192.9M145.4 181.4L145.4 183.8L144.4 184.9L144.3 186.8L145.4 188.2L147.5 190.4L149.6 191.4L149.7 191.1L151.6 190.9L152.2 190.3L152.8 190.7L155.9 191.1L155.9 194.5M132.6 184.0L132.9 185.2L132.6 186.3L132.1 188.0L132.1 189.6M132.9 185.2L134.8 185.5L136.6 185.3L138.8 184.6M139.2 185.5L139.1 186.4L137.8 188.0L136.6 189.2L135.9 190.4M130.5 184.3L130.6 186.8L131.4 189.7M128.6 186.8L128.7 190.3M145.4 188.2L147.5 190.4M145.4 183.8L145.4 181.4M144.3 186.8L142.0 188.6L140.1 188.9M140.5 192.2L142.0 191.4L141.9 190.7L144.4 190.9L147.5 190.4M153.4 179.8L153.5 182.4L153.1 184.7L152.8 185.7L151.6 188.3L151.0 188.7L152.2 190.3M153.1 184.7L155.3 184.6L157.3 185.7M157.3 186.4L156.6 187.1L157.8 188.0L159.7 188.6L160.3 188.6L158.4 190.4L156.5 191.1L155.9 191.1M142.0 191.4L141.5 194.1L140.4 195.0L139.4 196.3L138.5 196.4L138.1 197.2M139.4 196.3L140.7 197.0L141.0 198.0L142.5 198.1L144.0 198.0L144.1 200.2L145.4 200.6L145.7 201.2L148.2 201.5L148.2 198.7L149.5 198.5L148.8 197.2L148.5 195.1L149.4 194.1L148.9 192.9L149.9 192.2L149.6 191.4M138.0 204.1L139.1 204.2L141.9 204.2L145.0 204.4L146.1 204.5M144.1 200.2L144.1 201.5L144.1 203.5L145.0 204.4M146.1 204.5L147.2 204.6L149.3 203.1L149.3 202.6L151.0 202.1L150.8 199.3L149.5 198.5M142.9 204.5L142.9 207.2L142.9 209.1L142.9 211.4L140.7 211.5M142.9 209.1L144.7 209.3L146.3 209.5L147.2 208.2L148.7 207.3L149.9 207.4L150.3 208.8L150.3 210.3L150.9 210.3M146.1 204.5L148.7 207.3M150.9 203.4L149.3 203.1M149.9 207.4L150.8 206.2L151.0 204.0L151.9 203.7L152.4 204.1L151.9 202.4L152.7 200.6L155.6 199.9M151.6 199.3L151.9 200.6L151.9 202.4M148.8 197.2L149.4 196.1L149.4 195.0L149.4 194.1L151.6 194.1L153.9 195.4L154.8 196.4M151.6 194.1L151.6 190.9M124.9 166.2L126.4 166.4L126.0 168.0L125.8 169.7M129.3 165.2L132.3 165.9M135.1 164.9L134.8 163.4L134.1 163.1L135.1 162.0L135.5 160.9L134.2 160.5L132.0 159.2M134.8 163.4L136.9 162.9L138.9 162.9L138.9 163.5M135.1 162.0L136.4 162.1L136.9 162.9M136.4 162.1L138.5 162.1L139.0 161.2L137.9 159.9L139.6 159.4L139.2 156.9M134.2 160.5L134.3 158.9L134.8 157.4M135.8 156.1L136.6 156.2M139.0 161.2L141.0 161.2L142.1 160.5L144.4 160.8L145.4 159.5L145.1 158.5L145.3 156.9L144.6 156.6L142.7 156.5M139.6 159.4L142.1 160.5M141.0 161.2L141.0 161.9L140.4 162.6L138.9 162.9M140.4 162.6L142.1 163.3L143.0 163.2L144.4 161.7L144.4 160.8M144.4 161.7L147.0 161.5L148.0 163.6L148.9 163.8M143.0 163.2L144.5 164.4L144.4 166.0L146.8 166.5L147.8 166.2M144.5 164.4L147.4 164.7L148.2 165.0M138.9 163.6L140.1 163.4L142.2 163.8L142.5 164.1L142.5 166.3M142.5 166.3L143.2 166.3L144.4 166.0M143.2 166.3L142.9 167.9M143.2 166.9L144.7 166.7L146.8 166.5L146.6 167.0M145.3 156.9L147.0 155.4L148.0 155.0L147.7 153.6L147.8 152.1M143.5 155.1L147.0 155.4M145.5 153.5L147.7 153.6M145.1 158.5L149.7 158.5L150.3 157.0L149.6 155.5L148.0 155.0M149.7 158.5L151.8 159.2L152.5 159.8L155.3 160.4L155.2 161.8L154.2 162.4M149.7 141.7L148.2 142.7L148.5 144.0L149.1 146.2L149.1 148.3L150.0 148.9L147.7 151.2M148.2 142.7L146.6 142.0L146.4 142.5L145.2 142.9L143.2 142.6L145.2 145.9L145.4 146.1M143.2 142.6L141.6 143.3L140.4 144.3L139.4 145.8L139.1 147.3L138.0 148.3L138.0 150.4L138.4 151.3L137.8 152.3L137.4 152.5M156.3 166.6L157.5 166.9L158.4 166.7L159.4 166.4L160.6 166.4M155.3 165.2L157.2 165.9L159.4 166.4M157.5 166.9L158.3 167.9L157.8 168.1L158.3 169.7L156.8 169.7L153.0 170.0M158.3 167.9L160.3 168.0L160.9 168.8M156.8 169.7L155.9 171.6L154.6 172.3L152.8 172.8L152.6 172.4M154.6 172.3L154.7 173.3L153.5 173.6L154.1 174.3L152.2 175.1M154.7 173.3L156.6 173.9L158.2 175.1L159.4 175.2L160.1 174.6M158.3 169.7L159.1 170.7L158.7 171.9L160.1 173.9L160.6 174.7M152.2 175.1L151.8 173.7M162.5 178.4L164.8 179.4L165.1 179.8L164.7 181.1L162.8 181.8L160.3 182.3L158.4 182.8L157.5 182.7L157.1 183.4M165.1 179.8L165.3 178.6L165.5 178.0M162.8 181.8L163.5 183.3M160.9 168.8L160.2 168.0L159.1 168.5L158.3 167.9M164.0 169.6L165.3 169.1L166.2 169.2L168.1 170.1L168.5 170.8L168.2 172.2L168.4 173.7L168.9 173.7L168.3 174.7L169.8 176.5L168.8 177.8M168.3 174.7L171.7 174.7L172.0 173.8L173.6 173.3L174.0 172.1L174.6 171.9L174.9 170.5L176.8 169.8L177.1 169.7M168.5 170.8L170.6 170.3L171.8 169.5L172.8 169.8L174.9 169.0L174.9 170.0L177.1 169.7M163.4 166.2L165.3 166.7L165.9 166.7L166.8 165.8L167.8 166.1L169.0 166.9L171.8 169.5M165.3 166.7L165.3 164.0L166.8 163.5L168.4 164.5L170.8 165.0L171.6 165.5L171.5 166.3L172.8 167.0L173.4 166.7L174.6 166.0L176.2 165.9L176.6 165.3L180.4 166.1L180.4 165.6M160.9 162.9L159.4 161.4L159.7 160.1L162.2 158.8L164.4 159.3L166.9 159.2L168.7 159.5L167.8 158.2L168.5 157.3L173.4 155.8L174.6 156.8L176.2 157.3L178.4 156.9L180.2 159.5L182.4 159.3L184.8 160.8M180.4 165.6L180.4 164.0L181.8 163.8L182.1 162.3L183.7 162.4L184.8 160.8M177.1 169.7L176.4 168.0L178.3 167.0L180.4 166.1M184.8 160.8L187.1 163.8L189.8 164.5L190.5 165.7L193.3 165.8L195.8 166.5L200.1 165.0L200.1 164.0L202.5 163.6L203.1 162.9L205.0 162.7L203.8 161.7L202.5 161.9L203.1 160.3L201.6 159.9L198.9 160.8L196.9 159.9L194.1 159.6L191.6 159.7L191.0 160.3L187.7 159.5L185.1 160.8M203.1 160.3L205.2 157.9L207.4 157.3L209.8 160.3L211.8 161.0L214.5 161.4L213.3 163.9L212.2 164.1L211.8 165.9M211.8 165.9L210.1 166.2L209.5 166.4L207.9 167.6M209.3 169.3L210.4 168.7M177.1 169.7L178.9 170.9L179.6 171.7L179.4 172.9L179.7 172.9L179.5 173.8L180.9 174.5L180.3 175.4L182.3 176.3L185.3 176.9L185.3 176.0L185.8 176.4L187.8 176.7L187.5 176.1L189.0 175.3L191.0 175.8L191.2 175.6M180.9 174.5L184.0 175.9L185.3 176.0M178.9 170.9L176.5 171.4L176.9 172.9L176.8 173.9L175.9 174.7L175.2 176.0L174.0 176.1L174.1 177.5L174.6 178.3L172.9 178.8M185.3 176.9L185.8 177.8L185.3 178.2L185.7 178.4L185.8 180.0M187.8 176.7L186.3 177.3L186.3 177.7L188.0 177.9L187.2 178.6L187.5 179.3L188.1 180.3M188.1 180.3L188.5 179.7L188.6 178.6L189.4 177.6L191.0 175.8M191.2 175.6L191.9 176.2L191.1 178.1L192.0 179.1L192.2 179.8L193.4 180.0L194.0 179.6L196.1 179.0L196.9 179.3L197.7 180.2M193.4 180.0L192.8 180.9L193.1 181.4L193.5 181.4L193.3 182.7L194.0 182.3L195.2 182.2L195.7 183.3L196.2 183.8L196.1 184.6L197.4 184.5L197.4 183.6L196.1 182.1L195.2 181.3L195.7 180.8L194.0 179.6M192.2 181.1L191.3 182.1L191.8 183.3L191.6 184.2L192.2 185.5L192.5 186.3L191.9 187.2M196.1 184.6L194.3 184.7L194.4 185.1L194.5 186.3M197.4 184.5L197.4 185.9L196.4 186.3L195.5 187.1M192.8 189.5L193.4 190.0L194.0 189.7M198.7 192.3L199.2 193.0L200.3 192.6L201.8 192.6L202.1 191.8L202.5 190.9L203.7 190.9M218.2 195.1L218.2 199.1" fill="none" stroke="#b9c1cf" stroke-width=".45" stroke-opacity=".62"/>
</g>
<!-- decorative waves -->
<path d="M8.5 311.0C10.4 310.2 16.6 307.8 20.0 306.0C23.4 304.2 25.6 303.1 29.0 300.0C32.4 296.9 37.4 291.6 40.4 287.7C43.4 283.8 44.9 280.2 47.2 276.4C49.5 272.6 51.7 268.0 54.0 265.0C56.3 262.0 57.8 260.3 60.8 258.2C63.8 256.1 68.4 253.8 72.2 252.5C76.0 251.2 78.9 251.1 83.5 250.2C88.1 249.3 94.5 249.2 100.0 247.3C105.5 245.4 111.2 241.9 116.7 238.5C122.2 235.1 127.8 229.9 133.3 226.7C138.9 223.5 144.4 221.2 150.0 219.3C155.6 217.4 161.7 216.3 166.7 215.0C171.7 213.7 176.1 213.4 180.0 211.7C183.9 210.0 186.7 207.8 190.0 205.0C193.3 202.2 196.1 198.3 200.0 195.0C203.9 191.7 208.9 187.2 213.3 185.0C217.7 182.8 222.2 182.0 226.2 181.5C230.2 181.0 234.2 181.4 237.3 182.1C240.4 182.8 242.3 184.1 244.8 185.8C247.3 187.5 249.7 189.7 252.2 192.3C254.7 194.9 257.2 198.0 259.7 201.6C262.2 205.2 264.6 209.7 267.1 213.7C269.6 217.7 272.0 221.9 274.5 225.8C277.0 229.7 279.2 233.0 282.0 237.0C284.8 241.0 288.7 246.7 291.4 249.8C294.1 252.9 295.9 254.1 298.2 255.5C300.5 256.9 302.9 257.7 305.0 258.3C307.1 258.9 308.6 259.1 310.7 259.1C312.8 259.1 315.0 258.9 317.5 258.3C320.0 257.7 323.0 256.9 325.5 255.5C328.0 254.1 330.1 252.3 332.3 249.8C334.6 247.3 336.9 244.0 339.0 240.7C341.1 237.4 342.2 236.0 345.0 230.0C347.8 224.0 351.5 211.4 355.5 204.5C359.5 197.6 364.5 192.0 369.0 188.6C373.5 185.2 375.1 185.3 382.7 184.0C390.3 182.7 406.2 182.5 414.5 181.0C422.8 179.5 425.9 176.6 432.7 175.0C439.5 173.4 447.9 172.6 455.5 171.4C463.1 170.2 471.9 170.1 478.0 168.0C484.1 165.9 487.2 163.2 491.8 159.0C496.4 154.8 501.0 147.2 505.5 143.0C510.0 138.8 513.8 136.2 519.0 134.0C524.2 131.8 532.2 130.5 537.0 129.5C541.8 128.5 546.2 128.2 548.0 128.0" fill="none" stroke="url(#fadeG)" stroke-width="1.25"/>
<path d="M8.5 310.5C10.0 309.9 14.6 308.5 17.6 307.0C20.6 305.5 23.7 304.2 26.7 301.4C29.7 298.6 32.8 294.9 35.8 290.0C38.8 285.1 41.9 278.2 44.9 271.8C47.9 265.4 51.0 257.4 54.0 251.4C57.0 245.3 60.1 239.4 63.1 235.5C66.1 231.6 69.2 229.8 72.2 228.2C75.2 226.6 78.0 226.2 81.3 225.9C84.6 225.6 88.9 226.0 92.0 226.6C95.1 227.2 95.9 227.2 100.0 229.3C104.1 231.4 111.2 236.1 116.7 239.3C122.2 242.5 127.8 246.0 133.3 248.3C138.9 250.6 145.0 252.4 150.0 253.3C155.0 254.2 158.9 254.6 163.3 254.0C167.8 253.4 172.2 252.9 176.7 250.0C181.1 247.1 186.1 241.4 190.0 236.7C193.9 232.0 196.1 226.7 200.0 221.7C203.9 216.7 210.2 209.9 213.3 206.7C216.4 203.5 216.5 203.8 218.7 202.6C220.8 201.4 223.4 200.2 226.2 199.4C229.0 198.6 232.7 197.8 235.5 197.9C238.3 198.0 240.4 198.6 242.9 199.8C245.4 201.0 247.8 202.8 250.3 205.3C252.8 207.8 255.5 211.3 257.8 214.7C260.1 218.1 262.3 221.9 264.3 225.8C266.3 229.7 268.0 234.0 269.9 237.9C271.8 241.8 273.6 245.8 275.5 249.1C277.4 252.4 278.8 254.5 281.0 258.0C283.2 261.5 286.5 267.0 289.0 270.2C291.5 273.4 293.7 275.2 296.0 277.0C298.3 278.8 299.9 280.1 302.7 281.0C305.5 281.9 309.6 282.6 313.0 282.5C316.4 282.4 319.8 281.8 323.2 280.5C326.6 279.2 330.0 276.9 333.4 274.8C336.8 272.7 340.4 270.2 343.6 268.0C346.8 265.8 350.0 263.6 352.7 261.7C355.4 259.8 357.3 258.2 360.0 256.6C362.7 255.0 365.2 253.6 369.0 252.3C372.8 251.0 377.4 250.3 382.7 249.0C388.0 247.7 394.9 247.4 401.0 244.5C407.1 241.6 412.9 237.0 419.0 231.8C425.1 226.7 432.0 218.2 437.3 213.6C442.6 209.0 445.7 206.6 451.0 204.5C456.3 202.4 463.7 203.2 469.0 201.0C474.3 198.8 478.1 197.2 482.7 191.0C487.3 184.8 492.2 172.3 496.4 163.6C500.6 154.9 504.3 145.8 507.7 138.6C511.1 131.4 514.1 125.4 516.8 120.5C519.4 115.6 521.4 112.4 523.6 109.0C525.8 105.6 528.9 101.5 530.0 100.0" fill="none" stroke="url(#fadeY)" stroke-width="1.2"/>
</g>
<!-- chart -->
<line x1="352" y1="401.7" x2="882" y2="401.7" stroke="#dddddd" stroke-width="1.1"/>
<rect x="404.0" y="326.2" width="72.4" height="6.5" fill="#818181"/><rect x="404.0" y="332.4" width="72.4" height="23.9" fill="#fb9646"/><rect x="404.0" y="356.0" width="72.4" height="18.9" fill="#3878b6"/><rect x="403.9" y="375.1" width="73.1" height="26.0" fill="#b53a32" stroke="#8e2a23" stroke-width=".8"/><rect x="580.5" y="317.9" width="72.0" height="6.4" fill="#818181"/><rect x="580.5" y="324.0" width="72.0" height="28.0" fill="#fb9646"/><rect x="580.5" y="351.7" width="72.0" height="20.7" fill="#3878b6"/><rect x="580.4" y="372.6" width="72.7" height="28.5" fill="#b53a32" stroke="#8e2a23" stroke-width=".8"/><rect x="756.8" y="184.0" width="72.4" height="19.3" fill="#818181"/><rect x="756.8" y="203.0" width="72.4" height="79.0" fill="#fb9646"/><rect x="756.8" y="281.7" width="72.4" height="51.1" fill="#3878b6"/><rect x="756.7" y="333.0" width="73.1" height="68.1" fill="#b53a32" stroke="#8e2a23" stroke-width=".8"/>
<line x1="645.3" y1="318" x2="747" y2="192.5" stroke="#dbdbdb" stroke-width="1"/>
<path d="M751.8 186.5 L749.9 195.6 L743.3 190.3 Z" fill="#d8d8d8"/>
<circle cx="699.4" cy="246.8" r="26.1" fill="#f6870f"/>
<!-- legend swatches -->
<rect x="341.2" y="441.2" width="10.4" height="10.4" fill="#b53a32" stroke="#8e2a23" stroke-width=".8"/>
<rect x="495.5" y="441" width="10.5" height="10.8" fill="#3878b6"/>
<rect x="585.6" y="441" width="10.5" height="10.8" fill="#fb9646"/>
<rect x="712" y="441" width="10.5" height="10.8" fill="#818181"/>
<text font-size="24.6" fill="#ffffff" font-weight="normal" stroke="#ffffff" stroke-width="1.15" stroke-linejoin="round"><tspan x="34.4" y="46.5" textLength="44.1" lengthAdjust="spacingAndGlyphs">RFID</tspan> <tspan x="85.1" y="46.5" textLength="84.0" lengthAdjust="spacingAndGlyphs">MARKET</tspan></text>
<text font-size="19.3" fill="#dce2e9" font-weight="normal" stroke="#dce2e9" stroke-width=".65"><tspan x="33.9" y="68.1" textLength="57.0" lengthAdjust="spacingAndGlyphs">GLOBAL</tspan> <tspan x="97.9" y="68.1" textLength="76.0" lengthAdjust="spacingAndGlyphs">FORECAST</tspan> <tspan x="177.4" y="68.1" textLength="18.8" lengthAdjust="spacingAndGlyphs">TO</tspan> <tspan x="201.4" y="68.1" textLength="38.4" lengthAdjust="spacingAndGlyphs">2032</tspan> <tspan x="248.2" y="68.1" textLength="35.2" lengthAdjust="spacingAndGlyphs">(USD</tspan> <tspan x="287.8" y="68.1" textLength="25.2" lengthAdjust="spacingAndGlyphs">BN)</tspan></text>
<text x="29.3" y="274.9" font-size="18.3" fill="#a4a4a4" font-weight="normal" text-anchor="start" textLength="68.2" lengthAdjust="spacingAndGlyphs" stroke="#a4a4a4" stroke-width=".5">CAGR OF</text>
<text x="30.9" y="313.5" font-size="46.0" fill="#3c79b4" font-weight="bold" text-anchor="start" textLength="78.0" lengthAdjust="spacingAndGlyphs" stroke="#f5f5f5" stroke-width=".7">11.1</text>
<text x="110.9" y="313.5" font-size="25.6" fill="#3c79b4" font-weight="bold" text-anchor="start" textLength="17.0" lengthAdjust="spacingAndGlyphs">%</text>
<text font-size="16.8" fill="#1f1f1f" font-weight="normal" stroke="#1f1f1f" stroke-width=".22"><tspan x="28.9" y="349.0" textLength="24.7" lengthAdjust="spacingAndGlyphs">The</tspan> <tspan x="66.5" y="349.0" textLength="42.0" lengthAdjust="spacingAndGlyphs">global</tspan> <tspan x="121.5" y="349.0" textLength="34.1" lengthAdjust="spacingAndGlyphs">RFID</tspan> <tspan x="168.0" y="349.0" textLength="50.8" lengthAdjust="spacingAndGlyphs">market</tspan> <tspan x="231.8" y="349.0" textLength="10.9" lengthAdjust="spacingAndGlyphs">is</tspan></text>
<text font-size="16.8" fill="#1f1f1f" font-weight="normal" stroke="#1f1f1f" stroke-width=".22"><tspan x="28.6" y="369.7" textLength="65.0" lengthAdjust="spacingAndGlyphs">expected</tspan> <tspan x="105.4" y="369.7" textLength="14.2" lengthAdjust="spacingAndGlyphs">to</tspan> <tspan x="130.6" y="369.7" textLength="17.5" lengthAdjust="spacingAndGlyphs">be</tspan> <tspan x="160.6" y="369.7" textLength="39.6" lengthAdjust="spacingAndGlyphs">worth</tspan> <tspan x="212.0" y="369.7" textLength="30.7" lengthAdjust="spacingAndGlyphs">USD</tspan></text>
<text font-size="16.8" fill="#1f1f1f" font-weight="normal" stroke="#1f1f1f" stroke-width=".22"><tspan x="28.6" y="390.3" textLength="33.4" lengthAdjust="spacingAndGlyphs">40.9</tspan> <tspan x="67.6" y="390.3" textLength="42.7" lengthAdjust="spacingAndGlyphs">billion</tspan> <tspan x="115.8" y="390.3" textLength="15.1" lengthAdjust="spacingAndGlyphs">by</tspan> <tspan x="137.8" y="390.3" textLength="42.4" lengthAdjust="spacingAndGlyphs">2032,</tspan> <tspan x="187.1" y="390.3" textLength="55.9" lengthAdjust="spacingAndGlyphs">growing</tspan></text>
<text font-size="16.8" fill="#1f1f1f" font-weight="normal" stroke="#1f1f1f" stroke-width=".22"><tspan x="28.6" y="410.9" textLength="13.0" lengthAdjust="spacingAndGlyphs">at</tspan> <tspan x="52.0" y="410.9" textLength="8.2" lengthAdjust="spacingAndGlyphs">a</tspan> <tspan x="70.6" y="410.9" textLength="39.2" lengthAdjust="spacingAndGlyphs">CAGR</tspan> <tspan x="120.2" y="410.9" textLength="12.8" lengthAdjust="spacingAndGlyphs">of</tspan> <tspan x="144.0" y="410.9" textLength="45.2" lengthAdjust="spacingAndGlyphs">11.1%</tspan> <tspan x="199.0" y="410.9" textLength="44.0" lengthAdjust="spacingAndGlyphs">during</tspan></text>
<text font-size="16.8" fill="#1f1f1f" font-weight="normal" stroke="#1f1f1f" stroke-width=".22"><tspan x="28.8" y="431.6" textLength="21.9" lengthAdjust="spacingAndGlyphs">the</tspan> <tspan x="56.7" y="431.6" textLength="58.7" lengthAdjust="spacingAndGlyphs">forecast</tspan> <tspan x="120.7" y="431.6" textLength="46.6" lengthAdjust="spacingAndGlyphs">period.</tspan></text>
<text x="436.4" y="316.1" font-size="15.7" fill="#161616" font-weight="normal" text-anchor="middle" textLength="29.4" lengthAdjust="spacingAndGlyphs" stroke="#161616" stroke-width=".2">14.3</text>
<text x="611.7" y="297.0" font-size="15.5" fill="#161616" font-weight="normal" text-anchor="middle" textLength="29.6" lengthAdjust="spacingAndGlyphs" stroke="#161616" stroke-width=".2">15.8</text>
<text x="785.0" y="179.0" font-size="15.3" fill="#161616" font-weight="normal" text-anchor="middle" textLength="31.0" lengthAdjust="spacingAndGlyphs" stroke="#161616" stroke-width=".2">40.9</text>
<text x="440.8" y="430.0" font-size="15.7" fill="#262626" font-weight="normal" text-anchor="middle" textLength="40.3" lengthAdjust="spacingAndGlyphs">2022</text>
<text x="616.7" y="430.0" font-size="15.7" fill="#262626" font-weight="normal" text-anchor="middle" textLength="40.3" lengthAdjust="spacingAndGlyphs">2023</text>
<text x="793.3" y="430.0" font-size="15.7" fill="#262626" font-weight="normal" text-anchor="middle" textLength="40.3" lengthAdjust="spacingAndGlyphs">2032</text>
<text font-size="19.5" fill="#222222" font-weight="normal"><tspan x="357.9" y="451.7" textLength="46.2" lengthAdjust="spacingAndGlyphs">North</tspan> <tspan x="409.4" y="451.7" textLength="72.8" lengthAdjust="spacingAndGlyphs">America</tspan></text>
<text x="511.7" y="451.7" font-size="19.5" fill="#222222" font-weight="normal" text-anchor="start" textLength="61.8" lengthAdjust="spacingAndGlyphs">Europe</text>
<text font-size="19.5" fill="#222222" font-weight="normal"><tspan x="601.0" y="451.7" textLength="38.2" lengthAdjust="spacingAndGlyphs">Asia</tspan> <tspan x="645.6" y="451.7" textLength="54.8" lengthAdjust="spacingAndGlyphs">Pacific</tspan></text>
<text font-size="19.5" fill="#222222" font-weight="normal"><tspan x="729.9" y="451.7" textLength="34.4" lengthAdjust="spacingAndGlyphs">Rest</tspan> <tspan x="770.1" y="451.7" textLength="16.1" lengthAdjust="spacingAndGlyphs">of</tspan> <tspan x="790.8" y="451.7" textLength="26.9" lengthAdjust="spacingAndGlyphs">the</tspan> <tspan x="823.7" y="451.7" textLength="56.2" lengthAdjust="spacingAndGlyphs">World</tspan></text>
<text x="677.8" y="249.0" font-size="16.2" fill="#fff5e6" font-weight="bold" text-anchor="start" textLength="33.2" lengthAdjust="spacingAndGlyphs">11.1</text>
<text x="711.6" y="249.0" font-size="11.0" fill="#fff5e6" font-weight="bold" text-anchor="start" textLength="8.4" lengthAdjust="spacingAndGlyphs">%</text>
</svg>
</body>
</html>
